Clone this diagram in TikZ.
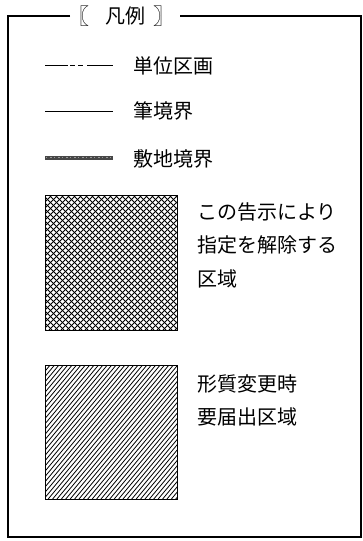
\documentclass[tikz,border=0pt]{standalone}
\usepackage{fontspec}
\newfontfamily\jp{Noto Sans CJK JP}
\begin{document}
\begin{tikzpicture}[x=1pt,y=-1pt,
  lbl/.style={anchor=base west,inner sep=0pt,font=\jp\fontsize{20pt}{24pt}\selectfont},
  ttl/.style={anchor=base,inner sep=0pt,font=\jp\fontsize{20pt}{24pt}\selectfont},
  frameline/.style={line width=1.1pt,black},
  legline/.style={line width=0.9pt,black},
  hatchline/.style={line width=0.8pt,black},
  xhatchline/.style={line width=0.75pt,black},
  boxedge/.style={line width=1pt,black}]
\useasboundingbox (0,0) rectangle (363,541);
% title
\node[ttl,font=\jp\fontsize{22pt}{24pt}\selectfont] (tl) at (78,24.5) {〖};
\node[ttl] (tt) at (125.5,23.5) {凡例};
\node[ttl,font=\jp\fontsize{22pt}{24pt}\selectfont] (tr) at (164,24.5) {〗};
% frame
\coordinate (fa) at (70,16);
\coordinate (fb) at (180,16);
\draw[frameline] (fa) -- (8,16) -- (8,537) -- (361,537) -- (361,16) -- (fb);
% legend lines
\coordinate (l1a) at (45,65); \coordinate (l1b) at (113,65);
\draw[legline,dash pattern=on 23pt off 2pt on 5pt off 3pt on 5pt off 4pt on 26pt] (l1a) -- (l1b);
\node[lbl] (t1) at (133,73.5) {単位区画};
\coordinate (l2a) at (45,111); \coordinate (l2b) at (113,111);
\draw[legline] (l2a) -- (l2b);
\node[lbl] (t2) at (133,118.5) {筆境界};
\coordinate (l3a) at (45,158); \coordinate (l3b) at (113,158);
\draw[line width=4pt,black!72] (l3a) -- (l3b);
\draw[line width=1pt,white!60!black,dash pattern=on 1pt off 3pt on 2pt off 2pt] (46,157.5) -- (112,157.5);
\node[lbl] (t3) at (133,166.5) {敷地境界};
% crosshatch square
\begin{scope}
\clip (45,195) rectangle (177,330);
\foreach \t in {-140,-134,...,140} {
  \draw[xhatchline] ({45+\t},330) -- ({45+\t+135},195);
  \draw[xhatchline] ({45+\t},195) -- ({45+\t+135},330);
}
\end{scope}
\node[draw,boxedge,minimum width=132pt,minimum height=135pt,inner sep=0pt] (sq1) at (111,262.5) {};
\node[lbl] (a1) at (197,219) {この告示により};
\node[lbl] (a2) at (197,252) {指定を解除する};
\node[lbl] (a3) at (197,286) {区域};
% hatch square
\begin{scope}
\clip (45,365) rectangle (177,499);
\foreach \t in {-120,-115.6,...,140} {
  \draw[hatchline] ({45+\t},499) -- ({45+\t+112},365);
}
\end{scope}
\node[draw,boxedge,minimum width=132pt,minimum height=134pt,inner sep=0pt] (sq2) at (111,432) {};
\node[lbl] (b1) at (197,391) {形質変更時};
\node[lbl] (b2) at (197,424) {要届出区域};
\end{tikzpicture}
\end{document}
